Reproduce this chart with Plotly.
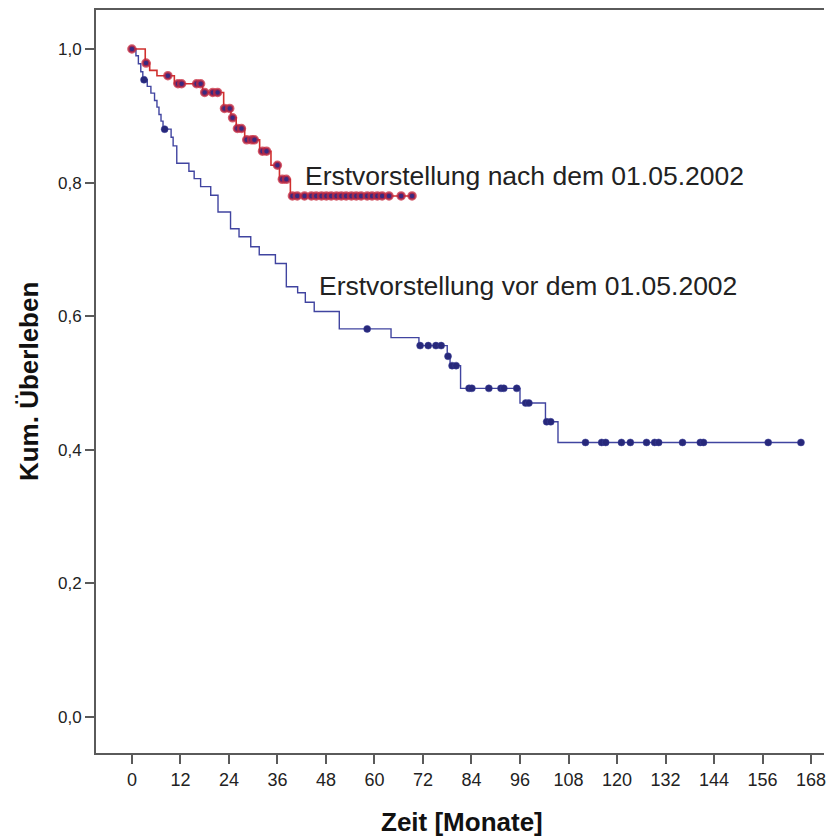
import numpy as np
import plotly.graph_objects as go

# ---- data ----
# Group "nach dem 01.05.2002" (red): event times (months) and survival after each event
red_event_t = [3.3, 4.4, 6.2, 10.5, 17.5, 22.7, 24.5, 25.8, 27.9, 31.6, 34.4, 36.5, 39.2]
red_event_s = [0.979, 0.968, 0.960, 0.948, 0.935, 0.911, 0.897, 0.881, 0.864, 0.847, 0.826, 0.805, 0.780]
red_censor_t = [0.0, 3.5, 8.9, 11.4, 12.3, 16.0, 17.0, 18.0, 20.0, 21.2, 22.9, 24.2, 24.9,
                26.1, 27.1, 28.4, 29.6, 30.3, 32.3, 33.3, 36.0, 37.2, 38.2,
                39.7, 40.9, 42.7, 44.4, 45.6, 46.9, 48.1, 49.3, 50.6, 51.8, 53.0, 54.3,
                55.5, 56.7, 58.2, 59.4, 60.7, 61.9, 63.6, 66.6, 69.3]

# Group "vor dem 01.05.2002" (blue)
blue_event_t = [1.0, 1.6, 2.2, 2.7, 3.8, 4.7, 5.6, 6.2, 6.7, 7.2, 7.7, 9.7, 10.2, 11.1,
                14.1, 15.4, 17.0, 19.5, 21.3, 24.4, 26.5, 29.4, 31.5, 35.5, 38.2,
                41.0, 42.9, 45.1, 51.3, 64.1, 71.0, 78.0, 78.7, 81.3, 96.0, 102.3, 105.4]
blue_event_s = [0.990, 0.978, 0.966, 0.954, 0.944, 0.934, 0.923, 0.913, 0.902, 0.892, 0.880,
                0.868, 0.855, 0.829, 0.817, 0.806, 0.794, 0.781, 0.756, 0.731, 0.719,
                0.704, 0.692, 0.679, 0.644, 0.635, 0.621, 0.607, 0.581, 0.568, 0.556,
                0.540, 0.526, 0.492, 0.470, 0.442, 0.411]
blue_censor_t = [3.0, 8.1, 58.2, 71.3, 73.3, 75.2, 76.5, 78.2, 79.2, 80.2, 83.4, 84.1,
                 88.3, 91.3, 92.0, 95.2, 97.4, 98.2, 102.6, 103.6, 112.2, 116.2, 117.2,
                 121.1, 123.3, 127.3, 129.3, 130.3, 136.2, 140.6, 141.4, 157.4, 165.5]

x_ticks = [0, 12, 24, 36, 48, 60, 72, 84, 96, 108, 120, 132, 144, 156, 168]
y_ticks = [0.0, 0.2, 0.4, 0.6, 0.8, 1.0]

label_red = "Erstvorstellung nach dem 01.05.2002"
label_blue = "Erstvorstellung vor dem 01.05.2002"


def step_curve(ev_t, ev_s, cens_t):
    xs = [0.0] + list(ev_t)
    ys = [1.0] + list(ev_s)
    end = max(max(cens_t), max(ev_t))
    xs.append(end)
    ys.append(ys[-1])
    return xs, ys


def surv_at(ev_t, ev_s, t):
    idx = np.searchsorted(np.array(ev_t), np.array(t), side="right")
    s = np.concatenate([[1.0], ev_s])
    return s[idx]


fig = go.Figure()

bx, by = step_curve(blue_event_t, blue_event_s, blue_censor_t)
fig.add_trace(go.Scatter(x=bx, y=by, mode="lines", line=dict(color="#4044a0", width=1.4, shape="hv"),
                         hoverinfo="skip", showlegend=False))
fig.add_trace(go.Scatter(x=blue_censor_t, y=surv_at(blue_event_t, blue_event_s, blue_censor_t),
                         mode="markers", marker=dict(color="#27287a", size=7,
                                                     line=dict(color="rgba(60,63,154,0.5)", width=1)),
                         hoverinfo="skip", showlegend=False))

rx, ry = step_curve(red_event_t, red_event_s, red_censor_t)
fig.add_trace(go.Scatter(x=rx, y=ry, mode="lines", line=dict(color="#d0302e", width=1.6, shape="hv"),
                         hoverinfo="skip", showlegend=False))
fig.add_trace(go.Scatter(x=red_censor_t, y=surv_at(red_event_t, red_event_s, red_censor_t),
                         mode="markers", marker=dict(color="#3a2a80", size=7,
                                                     line=dict(color="rgba(200,40,60,0.75)", width=2.5)),
                         hoverinfo="skip", showlegend=False))

fig.add_annotation(x=42.2, y=0.810, text=label_red, showarrow=False, xanchor="left", yanchor="middle",
                   font=dict(family="Liberation Sans, Arial", size=26.5, color="#222222"))
fig.add_annotation(x=45.9, y=0.645, text=label_blue, showarrow=False, xanchor="left", yanchor="middle",
                   font=dict(family="Liberation Sans, Arial", size=26.5, color="#222222"))

fig.add_annotation(xref="paper", yref="paper", x=0.503, y=-0.093, text="<b>Zeit [Monate]</b>",
                   showarrow=False, xanchor="center", yanchor="middle",
                   font=dict(family="Liberation Sans, Arial", size=26, color="#111111"))
fig.add_annotation(xref="paper", yref="paper", x=-0.092, y=0.4993, text="<b>Kum. Überleben</b>",
                   showarrow=False, xanchor="center", yanchor="middle", textangle=-90,
                   font=dict(family="Liberation Sans, Arial", size=26, color="#111111"))

fig.update_layout(
    width=826, height=837,
    margin=dict(l=96, r=0, t=10, b=84),
    paper_bgcolor="white", plot_bgcolor="white",
    separators=",.",
    showlegend=False,
)
fig.update_xaxes(range=[-8.88, 171.2], tickvals=x_ticks, ticktext=[str(v) for v in x_ticks],
                 showgrid=False, zeroline=False, showline=True, mirror=True, linecolor="#5a5a5a", linewidth=2,
                 ticks="outside", ticklen=9, tickwidth=1.5, tickcolor="#5a5a5a", ticklabeloverflow="allow",
                 tickfont=dict(family="Liberation Sans, Arial", size=18, color="#222222"))
fig.update_yaxes(range=[-0.0539, 1.0584], tickvals=y_ticks, tickformat=".1f",
                 showgrid=False, zeroline=False, showline=True, mirror=False, linecolor="#5a5a5a", linewidth=2,
                 ticks="outside", ticklen=9, tickwidth=1.5, tickcolor="#5a5a5a",
                 tickfont=dict(family="Liberation Sans, Arial", size=17, color="#222222"))

fig.write_html("out.html", config={"displayModeBar": False},
               post_script="document.body.style.margin='0';document.body.style.overflow='hidden';")
